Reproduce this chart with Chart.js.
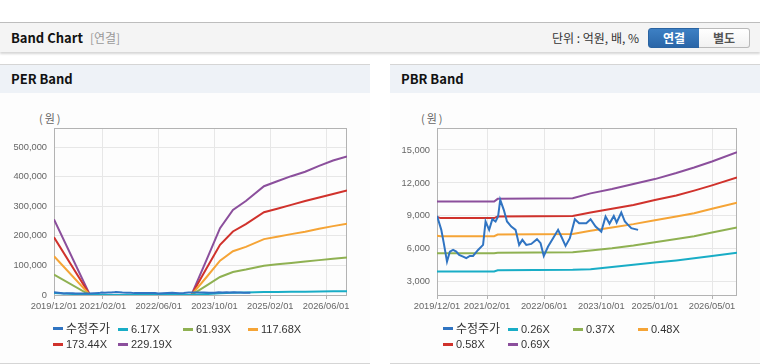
<!DOCTYPE html>
<html>
<head>
<meta charset="utf-8">
<script src="https://cdn.jsdelivr.net/npm/chart.js@4.4.0/dist/chart.umd.min.js"></script>
<style>
  body { margin: 0; width: 760px; height: 364px; overflow: hidden; background: #fff;
         font-family: "Noto Sans CJK KR", "Liberation Sans", sans-serif; position: relative; }
  .topbar { position: absolute; left: 0; top: 22px; width: 760px; height: 29px; background: #f4f4f4;
            border-top: 1px solid #bdbdbd; box-shadow: 0 2px 2px rgba(0,0,0,0.16); }
  .title { position: absolute; left: 11px; top: 4px; font-size: 13px; font-weight: bold; color: #111; line-height: 22px; }
  .title span { color: #999; font-weight: normal; font-size: 12px; margin-left: 7px; }
  .unit { position: absolute; left: 552px; top: 4px; font-size: 12px; color: #333; line-height: 22px; }
  .btn { position: absolute; top: 5px; height: 18px; line-height: 18px; font-size: 12px; font-weight: bold;
         text-align: center; box-sizing: content-box; }
  .btn.on { left: 648px; width: 50px; color: #fff; border: 1px solid #2a63a1; border-radius: 3px 0 0 3px;
            background: linear-gradient(#3d80c4, #2a66a8); }
  .btn.off { left: 699px; width: 50px; color: #555; border: 1px solid #b9b9b9; border-left: none; border-radius: 0 3px 3px 0;
             background: linear-gradient(#ffffff, #f1f1f1); }
  .panel { position: absolute; top: 64px; width: 370px; height: 298px; background: #fdfdfd;
           border-top: 1px solid #d5d5d5; border-bottom: 1px solid #d5d5d5; }
  .phead { height: 28px; background: #eef2f7; font-size: 13px; font-weight: bold; color: #111;
           line-height: 28px; padding-left: 11px; }
  .panel canvas { position: absolute; left: 0; top: 28px; }
  .unitlbl { position: absolute; top: 45px; font-size: 11px; color: #666; letter-spacing: 2px; }
  .legend { position: absolute; left: 53px; top: 257px; width: 270px;
            font-family: Arial, "Liberation Sans", "Noto Sans CJK KR", sans-serif; font-size: 11px; color: #333; }
  .legend div { display: inline-block; width: 65px; height: 15px; line-height: 15px; white-space: nowrap; }
  .legend div:first-child { font-size: 12px; }
  .legend i { display: inline-block; width: 10px; height: 3px; vertical-align: middle; margin-right: 3px; position: relative; top: -1px; }
</style>
</head>
<body>
<div class="topbar">
  <div class="title">Band Chart<span>[연결]</span></div>
  <div class="unit">단위 : 억원, 배, %</div>
  <div class="btn on">연결</div>
  <div class="btn off">별도</div>
</div>

<div class="panel" style="left:0">
  <div class="phead">PER Band</div>
  <div class="unitlbl" style="left:39px">(원)</div>
  <canvas id="perChart" width="370" height="230"></canvas>
  <div class="legend" id="perLegend"></div>
</div>

<div class="panel" style="left:390px">
  <div class="phead">PBR Band</div>
  <div class="unitlbl" style="left:31px">(원)</div>
  <canvas id="pbrChart" width="370" height="230"></canvas>
  <div class="legend" id="pbrLegend"></div>
</div>

<script>
// ---- data ----
const priceDates = ['2019/12/01','2020/01/07','2020/01/28','2020/02/25','2020/03/19','2020/04/16','2020/05/13','2020/06/07',
  '2020/07/10','2020/08/07','2020/09/07','2020/10/04','2020/11/16','2020/12/28','2021/01/19','2021/02/19','2021/03/16',
  '2021/04/13','2021/05/04','2021/05/22','2021/06/22','2021/07/19','2021/08/25','2021/10/01','2021/11/01','2021/11/28',
  '2022/01/01','2022/02/13','2022/04/01','2022/05/01','2022/05/28','2022/07/04','2022/08/16','2022/09/28','2022/10/25',
  '2022/12/01','2023/01/07','2023/02/19','2023/03/25','2023/05/25','2023/07/01','2023/08/13','2023/10/01','2023/11/07',
  '2023/12/10','2024/01/16','2024/02/10','2024/03/19','2024/04/19','2024/05/16','2024/06/13','2024/08/10'];
const priceValues = [9000,7730,6520,4840,5750,5900,5750,5450,5300,5150,5360,5360,5900,6360,8490,7730,8700,8490,8940,10460,
  9550,8490,8030,7730,6360,6820,6360,6450,6880,6520,5360,6210,6970,7730,7120,6270,6970,8700,8340,8340,8700,8030,7570,8940,
  8300,9000,8400,9300,8490,8180,7880,7730];

// PER band
const perBandDates = ['2019/12/01','2020/10/10','2023/03/13','2023/07/22','2023/11/19','2024/03/10','2024/07/01','2024/12/07',
  '2025/04/01','2025/08/01','2025/12/01','2026/04/01','2026/08/01','2026/12/01'];
const per617   = [7000, 0, 0, 3000, 6000, 8000, 8500, 10000, 10400, 10800, 11300, 11800, 12300, 12700];
const per6193  = [69000, 0, 0, 32000, 61000, 78000, 86000, 99000, 104000, 108000, 113000, 118000, 123000, 127000];
const per11768 = [131000, 0, 0, 60000, 116000, 148000, 163000, 189000, 197000, 206000, 214000, 224000, 233000, 241000];
const per17344 = [195000, 0, 0, 90000, 170000, 215000, 240000, 280000, 292000, 305000, 318000, 330000, 342000, 354000];
const per22919 = [256000, 0, 0, 118000, 226000, 288000, 318000, 368000, 385000, 402000, 417000, 437000, 455000, 469000];

// PBR band
const pbrBandDates = ['2019/12/01','2020/01/01','2021/04/01','2021/05/01','2023/02/01','2023/07/01','2024/01/01','2024/07/01',
  '2025/01/01','2025/07/01','2025/12/01','2026/05/01','2026/12/01'];
const pbr026 = [3950, 3950, 3950, 4050, 4100, 4150, 4350, 4550, 4750, 4950, 5150, 5350, 5650];
const pbr037 = [5600, 5600, 5600, 5650, 5700, 5850, 6050, 6300, 6600, 6900, 7150, 7480, 7950];
const pbr048 = [7200, 7150, 7150, 7300, 7350, 7650, 7950, 8250, 8600, 8950, 9250, 9650, 10200];
const pbr058 = [8900, 8800, 8800, 8950, 9000, 9300, 9650, 10000, 10450, 10850, 11300, 11780, 12500];
const pbr069 = [10300, 10300, 10300, 10550, 10600, 11050, 11450, 11900, 12350, 12900, 13400, 13950, 14800];

const perNames = ['수정주가', '6.17X', '61.93X', '117.68X', '173.44X', '229.19X'];
const pbrNames = ['수정주가', '0.26X', '0.37X', '0.48X', '0.58X', '0.69X'];
const colors = ['#3074c2', '#19adc6', '#8fb152', '#f5a436', '#d0322c', '#8b4f9c'];

const perTickLabels = ['2019/12/01','2021/02/01','2022/06/01','2023/10/01','2025/02/01','2026/06/01'];
const pbrTickLabels = ['2019/12/01','2021/02/01','2022/06/01','2023/10/01','2025/01/01','2026/05/01'];
const perYTicks = [0, 100000, 200000, 300000, 400000, 500000];
const pbrYTicks = [3000, 6000, 9000, 12000, 15000];
const xEnd = '2026/12/01';

// months since 2019/12/01
function toMonth(s) {
  const [y, m, d] = s.split('/').map(Number);
  return (y - 2019) * 12 + (m - 12) + (d - 1) / 30;
}

function pts(dates, vals) {
  return dates.map((d, i) => ({ x: toMonth(d), y: vals[i] }));
}

// gray box around plot area
const framePlugin = {
  id: 'frame',
  beforeDatasetsDraw(chart) {
    const { ctx, chartArea: a } = chart;
    ctx.save();
    ctx.strokeStyle = '#b3b3b3';
    ctx.lineWidth = 1;
    ctx.strokeRect(Math.round(a.left) + 0.5, Math.round(a.top) + 0.5,
      Math.round(a.right - a.left) - 1, Math.round(a.bottom - a.top));
    ctx.restore();
  }
};

function makeChart(id, series, names, tickLabels, yTicks, yMin, yMax, axisWidth) {
  const datasets = series.map((s, i) => ({
    label: names[i],
    data: s,
    borderColor: colors[i],
    backgroundColor: colors[i],
    borderWidth: 2,
    pointRadius: 0,
    tension: 0,
    fill: false
  }));
  const tickFont = { family: 'Arial, "Liberation Sans", sans-serif', size: 9.3 };
  return new Chart(document.getElementById(id), {
    type: 'line',
    data: { datasets },
    options: {
      responsive: false,
      animation: false,
      devicePixelRatio: 1,
      layout: { padding: { top: 35, right: 23, left: 0, bottom: 0 } },
      plugins: { legend: { display: false }, tooltip: { enabled: false } },
      scales: {
        x: {
          type: 'linear',
          min: 0,
          max: toMonth(xEnd),
          afterBuildTicks: (axis) => { axis.ticks = tickLabels.map(t => ({ value: toMonth(t) })); },
          afterFit: (scale) => { scale.height = 28; },
          ticks: {
            autoSkip: false, maxRotation: 0, padding: 2, color: '#666', font: tickFont,
            callback: (v) => tickLabels.find(t => Math.abs(toMonth(t) - v) < 0.01) || ''
          },
          grid: { color: '#e7e7e7', tickColor: '#b3b3b3', tickLength: 4 },
          border: { display: false }
        },
        y: {
          min: yMin,
          max: yMax,
          afterBuildTicks: (axis) => { axis.ticks = yTicks.map(v => ({ value: v })); },
          afterFit: (scale) => { scale.width = axisWidth; },
          ticks: {
            padding: 7, color: '#666', font: tickFont,
            callback: (v) => v.toLocaleString('en-US')
          },
          grid: { color: '#e7e7e7', drawTicks: false },
          border: { display: false }
        }
      }
    },
    plugins: [framePlugin]
  });
}

function makeLegend(id, names) {
  document.getElementById(id).innerHTML = names.map((n, i) =>
    `<div><i style="background:${colors[i]}"></i>${n}</div>`).join('');
}

const pricePts = pts(priceDates, priceValues);

makeChart('perChart',
  [pricePts, pts(perBandDates, per617), pts(perBandDates, per6193), pts(perBandDates, per11768),
   pts(perBandDates, per17344), pts(perBandDates, per22919)],
  perNames, perTickLabels, perYTicks, 0, 565000, 54);

makeChart('pbrChart',
  [pricePts, pts(pbrBandDates, pbr026), pts(pbrBandDates, pbr037), pts(pbrBandDates, pbr048),
   pts(pbrBandDates, pbr058), pts(pbrBandDates, pbr069)],
  pbrNames, pbrTickLabels, pbrYTicks, 1800, 17000, 47);

makeLegend('perLegend', perNames);
makeLegend('pbrLegend', pbrNames);
</script>
</body>
</html>
